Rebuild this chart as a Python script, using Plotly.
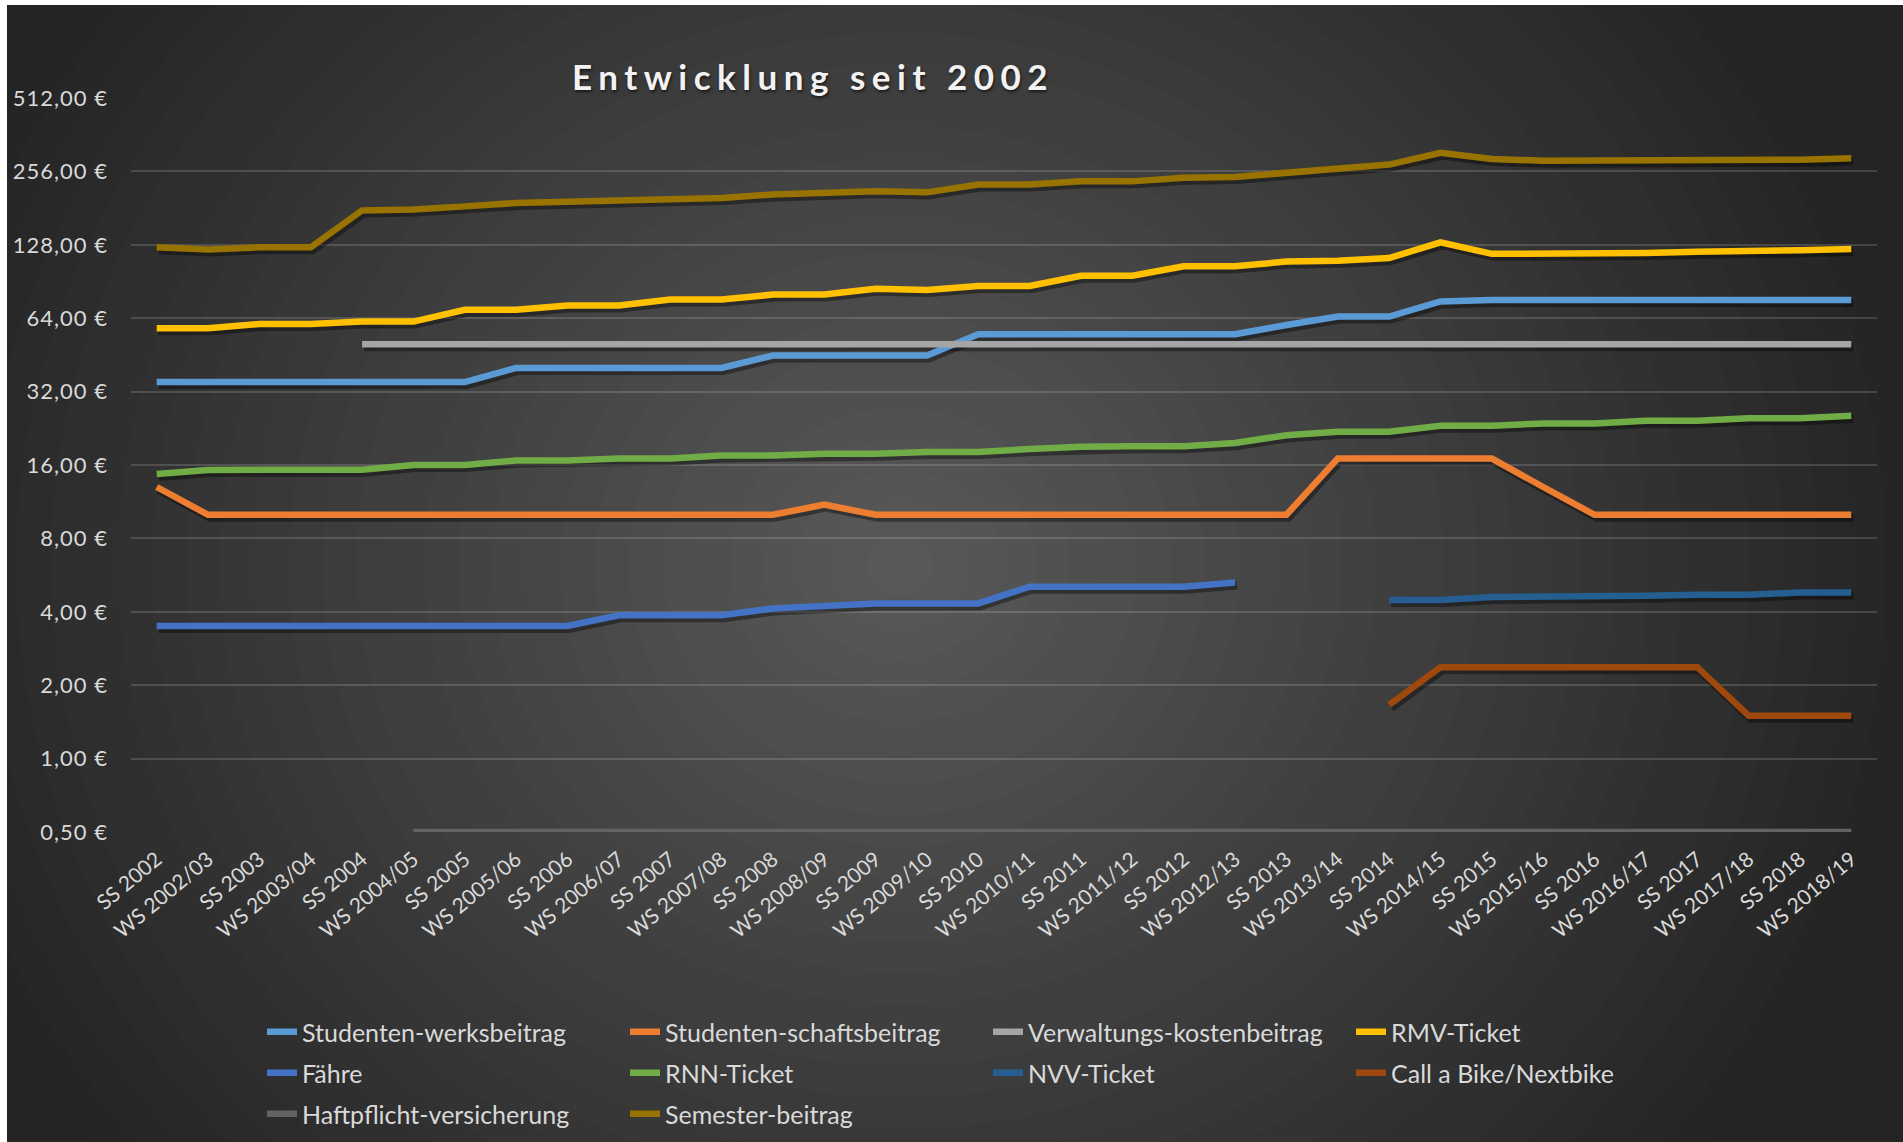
import math
import plotly.graph_objects as go

# ---------------- data ----------------
categories = ["SS 2002", "WS 2002/03", "SS 2003", "WS 2003/04", "SS 2004", "WS 2004/05",
              "SS 2005", "WS 2005/06", "SS 2006", "WS 2006/07", "SS 2007", "WS 2007/08",
              "SS 2008", "WS 2008/09", "SS 2009", "WS 2009/10", "SS 2010", "WS 2010/11",
              "SS 2011", "WS 2011/12", "SS 2012", "WS 2012/13", "SS 2013", "WS 2013/14",
              "SS 2014", "WS 2014/15", "SS 2015", "WS 2015/16", "SS 2016", "WS 2016/17",
              "SS 2017", "WS 2017/18", "SS 2018", "WS 2018/19"]

studentenwerk = [35, 35, 35, 35, 35, 35, 35, 40, 40, 40, 40, 40, 45, 45, 45, 45, 55, 55,
                 55, 55, 55, 55, 60, 65, 65, 75, 76, 76, 76, 76, 76, 76, 76, 76]
studentenschaft = [13, 10, 10, 10, 10, 10, 10, 10, 10, 10, 10, 10, 10, 11, 10, 10, 10, 10,
                   10, 10, 10, 10, 10, 17, 17, 17, 17, 13, 10, 10, 10, 10, 10, 10]
verwaltung = [None, None, None, None] + [50] * 30
rmv = [58.2, 58.2, 60.6, 60.6, 62, 62, 69.3, 69.3, 72.2, 72.2, 76.3, 76.3, 80, 80, 84.6,
       83.5, 86.7, 86.7, 95.6, 95.6, 104.6, 104.6, 109.2, 110, 113, 131, 117.5, 117.5,
       118, 118.5, 120, 120, 121.5, 123]
faehre = [3.5, 3.5, 3.5, 3.5, 3.5, 3.5, 3.5, 3.5, 3.5, 3.87, 3.87, 3.87, 4.13, 4.22, 4.33,
          4.33, 4.33, 5.07, 5.07, 5.07, 5.07, 5.28] + [None] * 12
rnn = [14.7, 15.25, 15.3, 15.3, 15.3, 16, 16, 16.7, 16.7, 17, 17, 17.5, 17.5, 17.8, 17.8,
       18.1, 18.1, 18.6, 19, 19.1, 19.1, 19.7, 21.2, 21.9, 21.9, 23.2, 23.2, 23.7, 23.7,
       24.3, 24.3, 24.9, 24.9, 25.5]
nvv = [None] * 24 + [4.47, 4.47, 4.6, 4.6, 4.65, 4.65, 4.7, 4.7, 4.8, 4.8]
bike = [None] * 24 + [1.66, 2.37, 2.37, 2.37, 2.37, 2.37, 2.37, 1.5, 1.5, 1.5]
haftpflicht = [None] * 5 + [0.5] * 29
semester = [125, 122.5, 125, 125, 177, 178.5, 184, 190, 192, 195, 196, 199, 206, 208, 212,
            210, 226, 226, 233, 233, 241, 243, 252, 264, 273, 305, 288, 283, 283, 283, 286,
            286, 286, 290]

series_names = ["Studenten-werksbeitrag", "Studenten-schaftsbeitrag",
                "Verwaltungs-kostenbeitrag", "RMV-Ticket", "Fähre", "RNN-Ticket",
                "NVV-Ticket", "Call a Bike/Nextbike", "Haftpflicht-versicherung",
                "Semester-beitrag"]
series_values = [studentenwerk, studentenschaft, verwaltung, rmv, faehre, rnn, nvv, bike,
                 haftpflicht, semester]
series_colors = ["#5B9BD5", "#ED7D31", "#A5A5A5", "#FFC000", "#4472C4", "#70AD47",
                 "#255E91", "#9E480E", "#636363", "#997300"]
series_legend = ["legend", "legend", "legend", "legend", "legend2", "legend2", "legend2",
                 "legend2", "legend3", "legend3"]

ytick_vals = [0.5, 1, 2, 4, 8, 16, 32, 64, 128, 256, 512]
ytick_text = ["0,50 €", "1,00 €", "2,00 €", "4,00 €", "8,00 €", "16,00 €", "32,00 €",
              "64,00 €", "128,00 €", "256,00 €", "512,00 €"]

# ---------------- geometry ----------------
W, H = 1903, 1142
PL, PR, PT, PB = 131, 1877, 98, 832


def px2x(p):
    return (p - PL) / (PR - PL)


def py2y(p):
    return (PB - p) / (PB - PT)


FONT = "Lato, 'Open Sans', sans-serif"
TXT = "#d9d9d9"

fig = go.Figure()

# Haftpflicht line lives on the base axes (keeps the base subplot with ticks/grid alive)
HIDX = series_names.index("Haftpflicht-versicherung")
fig.add_trace(go.Scatter(x=categories, y=series_values[HIDX], mode="lines",
                         name=series_names[HIDX], legend=series_legend[HIDX],
                         xaxis="x", yaxis="y",
                         line=dict(color=series_colors[HIDX], width=6.5)))

# shadows (shifted overlay axes)
for i, (name, vals) in enumerate(zip(series_names, series_values)):
    if i == HIDX:
        continue
    fig.add_trace(go.Scatter(x=categories, y=vals, mode="lines", xaxis="x2", yaxis="y2",
                             line=dict(color="rgba(0,0,0,0.38)", width=8),
                             showlegend=False, hoverinfo="skip", connectgaps=False))

# main lines
for i, (name, vals, col, lg) in enumerate(zip(series_names, series_values, series_colors,
                                               series_legend)):
    if i == HIDX:
        continue
    fig.add_trace(go.Scatter(x=categories, y=vals, mode="lines", name=name,
                             xaxis="x3", yaxis="y3", legend=lg,
                             line=dict(color=col, width=6.5), connectgaps=False))

# background gradient via stacked ellipses
shapes = [dict(type="rect", xref="paper", yref="paper", x0=px2x(-50), x1=px2x(W + 50),
               y0=py2y(H + 50), y1=py2y(-50), fillcolor="#242424", line=dict(width=0),
               layer="below")]
cx, cy, rx, ry = 900, 565, 1020, 940
c_edge, c_center = 36, 89
N = 30
for k in range(N):
    s = 1 - k / N
    t = s - 0.5 / N
    c = int(round(c_center + (c_edge - c_center) * t))
    shapes.append(dict(type="circle", xref="paper", yref="paper",
                       x0=px2x(cx - rx * s), x1=px2x(cx + rx * s),
                       y0=py2y(cy + ry * s), y1=py2y(cy - ry * s),
                       fillcolor=f"rgb({c},{c},{c})", line=dict(width=0), layer="below"))
# white strips at top and left edges
shapes.append(dict(type="rect", xref="paper", yref="paper", x0=px2x(-50), x1=px2x(W + 50),
                   y0=py2y(5), y1=py2y(-50), fillcolor="#ffffff", line=dict(width=0),
                   layer="below"))
shapes.append(dict(type="rect", xref="paper", yref="paper", x0=px2x(-50), x1=px2x(7),
                   y0=py2y(H + 50), y1=py2y(-50), fillcolor="#ffffff", line=dict(width=0),
                   layer="below"))

ylog = [math.log10(0.5), math.log10(512)]
dy = 3 * (ylog[1] - ylog[0]) / (PB - PT)
dx = 2 / ((PR - PL) / len(categories))

legend_common = dict(orientation="h", entrywidth=318, entrywidthmode="pixels",
                     font=dict(family=FONT, size=25, color=TXT),
                     bgcolor="rgba(0,0,0,0)", xanchor="left", yanchor="middle",
                     x=px2x(262), itemwidth=30)

ytick_html = ['<span style="letter-spacing:1px">%s</span>' % t for t in ytick_text]

fig.update_layout(
    width=W, height=H,
    margin=dict(l=PL, r=W - PR, t=PT, b=H - PB, pad=0, autoexpand=False),
    paper_bgcolor="#ffffff",
    plot_bgcolor="rgba(0,0,0,0)",
    shapes=shapes,
    showlegend=True,
    xaxis=dict(type="category", categoryorder="array", categoryarray=categories,
               range=[-0.5, len(categories) - 0.5], showgrid=False, zeroline=False,
               showline=False, ticks="", tickangle=-40, ticklabelstandoff=10,
               tickfont=dict(family=FONT, size=21, color=TXT)),
    yaxis=dict(type="log", range=ylog, tickvals=ytick_vals, ticktext=ytick_html,
               showgrid=True, gridcolor="rgba(255,255,255,0.15)", gridwidth=1.5,
               zeroline=False, showline=False, ticks="", ticklabelstandoff=22,
               tickfont=dict(family=FONT, size=22, color=TXT)),
    xaxis2=dict(type="category", categoryorder="array", categoryarray=categories,
                range=[-0.5 - dx, len(categories) - 0.5 - dx], overlaying="x",
                visible=False, anchor="y2"),
    yaxis2=dict(type="log", range=[ylog[0] + dy, ylog[1] + dy], overlaying="y",
                visible=False, anchor="x2"),
    xaxis3=dict(type="category", categoryorder="array", categoryarray=categories,
                range=[-0.5, len(categories) - 0.5], overlaying="x", visible=False,
                anchor="y3"),
    yaxis3=dict(type="log", range=ylog, overlaying="y", visible=False, anchor="x3"),
    legend=dict(legend_common, y=py2y(1032)),
    legend2=dict(legend_common, y=py2y(1073)),
    legend3=dict(legend_common, y=py2y(1114)),
    annotations=[dict(
        text='<span style="letter-spacing:6.5px">Entwicklung seit 2002</span>',
        xref="paper", yref="paper", x=px2x(813), y=py2y(76), xanchor="center",
        yanchor="middle", showarrow=False,
        font=dict(family=FONT, size=35, color="#f2f2f2", weight="bold",
                  shadow="1px 2px 3px rgba(0,0,0,0.6)"))],
)

fig.write_html("out.html", config={"displayModeBar": False},
               post_script="document.body.style.margin='0';document.body.style.overflow='hidden';")
